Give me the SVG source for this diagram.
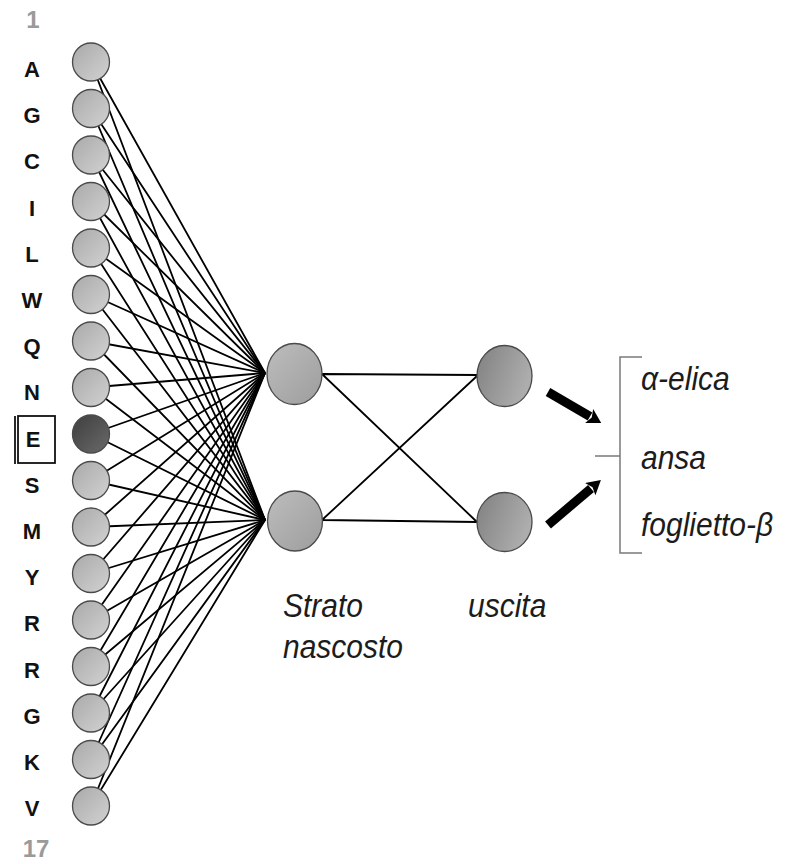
<svg xmlns="http://www.w3.org/2000/svg" width="788" height="864" viewBox="0 0 788 864">
  <defs>
    <linearGradient id="gIn" x1="0" y1="0" x2="1" y2="1">
      <stop offset="0" stop-color="#a9a9a9"/>
      <stop offset="1" stop-color="#d2d2d2"/>
    </linearGradient>
    <linearGradient id="gSel" x1="0" y1="0" x2="1" y2="1">
      <stop offset="0" stop-color="#3e3e3e"/>
      <stop offset="1" stop-color="#6a6a6a"/>
    </linearGradient>
    <linearGradient id="gHid" x1="0" y1="0" x2="1" y2="1">
      <stop offset="0" stop-color="#bdbdbd"/>
      <stop offset="1" stop-color="#9d9d9d"/>
    </linearGradient>
    <linearGradient id="gOut" x1="0" y1="0" x2="1" y2="0.4">
      <stop offset="0" stop-color="#808080"/>
      <stop offset="1" stop-color="#adadad"/>
    </linearGradient>
    <marker id="head" viewBox="0 -8 14 16" markerWidth="14" markerHeight="16" refX="1" refY="0" orient="auto" markerUnits="userSpaceOnUse">
      <path d="M0,-8 L14,0 L0,8 L3,0 z" fill="#000"/>
    </marker>
    <style>
      .node { stroke: #4a4a4a; stroke-width: 1.3; }
      .wire { stroke: #000; stroke-width: 1.8; fill: none; }
      .lbl { font-family: "Liberation Sans", Arial, sans-serif; font-weight: bold; font-size: 22px; fill: #111; text-anchor: middle; }
      .idx { font-family: "Liberation Sans", Arial, sans-serif; font-weight: bold; font-size: 24px; fill: #9a9a9a; text-anchor: middle; }
      .cap { font-family: "Liberation Sans", Arial, sans-serif; font-style: italic; font-size: 30px; fill: #1c1c1c; }
      .brk { stroke: #7a7a7a; stroke-width: 1.5; fill: none; }
      .arw { stroke: #000; stroke-width: 9; fill: none; marker-end: url(#head); }
    </style>
  </defs>

  <!-- connectors: input layer -> hidden layer -> output layer -->
  <g id="connectors">
    <g class="wire">
      <path d="M91,62 L265,373 M91,62 L265,520"/>
      <path d="M91,108.5 L265,373 M91,108.5 L265,520"/>
      <path d="M91,155 L265,373 M91,155 L265,520"/>
      <path d="M91,201.5 L265,373 M91,201.5 L265,520"/>
      <path d="M91,248 L265,373 M91,248 L265,520"/>
      <path d="M91,294.5 L265,373 M91,294.5 L265,520"/>
      <path d="M91,341 L265,373 M91,341 L265,520"/>
      <path d="M91,387.5 L265,373 M91,387.5 L265,520"/>
      <path d="M91,434 L265,373 M91,434 L265,520"/>
      <path d="M91,480.5 L265,373 M91,480.5 L265,520"/>
      <path d="M91,527 L265,373 M91,527 L265,520"/>
      <path d="M91,573.5 L265,373 M91,573.5 L265,520"/>
      <path d="M91,620 L265,373 M91,620 L265,520"/>
      <path d="M91,666.5 L265,373 M91,666.5 L265,520"/>
      <path d="M91,713 L265,373 M91,713 L265,520"/>
      <path d="M91,759.5 L265,373 M91,759.5 L265,520"/>
      <path d="M91,806 L265,373 M91,806 L265,520"/>
      <path d="M322,374 L477,375 M322,374 L477,522 M322,520 L477,376 M322,520 L477,522"/>
    </g>
    <line class="arw" x1="548" y1="392" x2="590" y2="416.5"/>
    <line class="arw" x1="548" y1="525" x2="591" y2="488.5"/>
  </g>

  <!-- input residues -->
  <g id="inputs">
    <g id="in1"><ellipse class="node" cx="91" cy="62" rx="18.5" ry="19" fill="url(#gIn)"/><text class="lbl" x="32" y="77">A</text></g>
    <g id="in2"><ellipse class="node" cx="91" cy="108.5" rx="18.5" ry="19" fill="url(#gIn)"/><text class="lbl" x="32" y="123.2">G</text></g>
    <g id="in3"><ellipse class="node" cx="91" cy="155" rx="18.5" ry="19" fill="url(#gIn)"/><text class="lbl" x="32" y="169.4">C</text></g>
    <g id="in4"><ellipse class="node" cx="91" cy="201.5" rx="18.5" ry="19" fill="url(#gIn)"/><text class="lbl" x="32" y="215.6">I</text></g>
    <g id="in5"><ellipse class="node" cx="91" cy="248" rx="18.5" ry="19" fill="url(#gIn)"/><text class="lbl" x="32" y="261.8">L</text></g>
    <g id="in6"><ellipse class="node" cx="91" cy="294.5" rx="18.5" ry="19" fill="url(#gIn)"/><text class="lbl" x="32" y="308">W</text></g>
    <g id="in7"><ellipse class="node" cx="91" cy="341" rx="18.5" ry="19" fill="url(#gIn)"/><text class="lbl" x="32" y="354.2">Q</text></g>
    <g id="in8"><ellipse class="node" cx="91" cy="387.5" rx="18.5" ry="19" fill="url(#gIn)"/><text class="lbl" x="32" y="400.4">N</text></g>
    <g id="in9">
      <ellipse class="node" cx="91" cy="434" rx="18.5" ry="19" fill="url(#gSel)"/>
      <rect x="18" y="416" width="37" height="47" fill="none" stroke="#111" stroke-width="1.8"/>
      <line x1="15" y1="416" x2="15" y2="464" stroke="#111" stroke-width="1.8"/>
      <text class="lbl" x="33" y="446.6">E</text>
    </g>
    <g id="in10"><ellipse class="node" cx="91" cy="480.5" rx="18.5" ry="19" fill="url(#gIn)"/><text class="lbl" x="32" y="492.8">S</text></g>
    <g id="in11"><ellipse class="node" cx="91" cy="527" rx="18.5" ry="19" fill="url(#gIn)"/><text class="lbl" x="32" y="539">M</text></g>
    <g id="in12"><ellipse class="node" cx="91" cy="573.5" rx="18.5" ry="19" fill="url(#gIn)"/><text class="lbl" x="32" y="585.2">Y</text></g>
    <g id="in13"><ellipse class="node" cx="91" cy="620" rx="18.5" ry="19" fill="url(#gIn)"/><text class="lbl" x="32" y="631.4">R</text></g>
    <g id="in14"><ellipse class="node" cx="91" cy="666.5" rx="18.5" ry="19" fill="url(#gIn)"/><text class="lbl" x="32" y="677.6">R</text></g>
    <g id="in15"><ellipse class="node" cx="91" cy="713" rx="18.5" ry="19" fill="url(#gIn)"/><text class="lbl" x="32" y="723.8">G</text></g>
    <g id="in16"><ellipse class="node" cx="91" cy="759.5" rx="18.5" ry="19" fill="url(#gIn)"/><text class="lbl" x="32" y="770">K</text></g>
    <g id="in17"><ellipse class="node" cx="91" cy="806" rx="18.5" ry="19" fill="url(#gIn)"/><text class="lbl" x="32" y="816.2">V</text></g>
    <text class="idx" x="33" y="28">1</text>
    <text class="idx" x="36" y="857">17</text>
  </g>

  <!-- hidden layer -->
  <g id="hidden1"><ellipse class="node" cx="294.5" cy="374" rx="27.5" ry="30.5" fill="url(#gHid)"/></g>
  <g id="hidden2"><ellipse class="node" cx="295" cy="521" rx="27.5" ry="30" fill="url(#gHid)"/></g>
  <g id="hiddenLabel">
    <text class="cap" transform="translate(283,617) scale(1,1.1)">Strato</text>
    <text class="cap" transform="translate(283,658) scale(1,1.1)">nascosto</text>
  </g>

  <!-- output layer -->
  <g id="out1"><ellipse class="node" cx="504.5" cy="376" rx="27.5" ry="30.5" fill="url(#gOut)"/></g>
  <g id="out2"><ellipse class="node" cx="504.5" cy="522" rx="27.5" ry="29.5" fill="url(#gOut)"/></g>
  <g id="outLabel"><text class="cap" transform="translate(468,617) scale(1,1.1)">uscita</text></g>

  <!-- secondary structure classes -->
  <g id="classes">
    <path class="brk" d="M642,357 H620 V553 H642 M595,456 H620"/>
    <text class="cap" transform="translate(641,390) scale(1,1.1)">α-elica</text>
    <text class="cap" transform="translate(641,469) scale(1,1.1)">ansa</text>
    <text class="cap" transform="translate(641,536) scale(1,1.1)">foglietto-β</text>
  </g>
</svg>
